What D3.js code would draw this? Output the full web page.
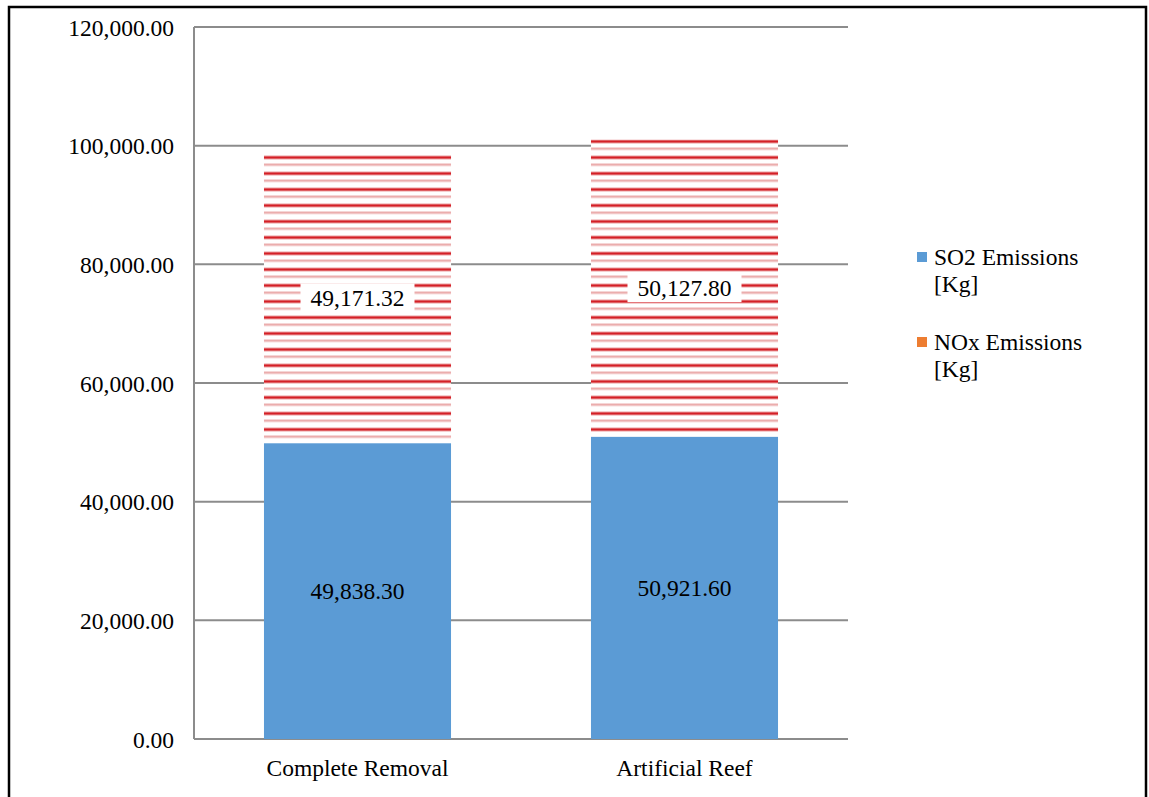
<!DOCTYPE html>
<html>
<head>
<meta charset="utf-8">
<script src="https://cdn.jsdelivr.net/npm/d3@7"></script>
<style>
  html, body { margin: 0; padding: 0; background: #fff; }
  svg { display: block; }
  svg text { font-family: "Liberation Serif", "Times New Roman", "DejaVu Serif", serif !important; font-size: 23.5px; fill: #000; }
</style>
</head>
<body>
<svg id="chart" width="1149" height="797"></svg>
<script>
// Emission totals per decommissioning option
const categories = ["Complete Removal", "Artificial Reef"];
const so2Values = [49838.30, 50921.60];
const noxValues = [49171.32, 50127.80];
const yTickValues = [0, 20000, 40000, 60000, 80000, 100000, 120000];
const seriesNames = ["SO2 Emissions [Kg]", "NOx Emissions [Kg]"];
const seriesColors = ["#5b9bd5", "#ed7d31"];

const svg = d3.select("#chart");
const margin = { left: 194, right: 848, top: 27, bottom: 739 };

const x = d3.scaleBand()
  .domain(categories)
  .range([margin.left, margin.right])
  .paddingInner(0.428)
  .paddingOuter(0.214);

const y = d3.scaleLinear()
  .domain([0, 120000])
  .range([margin.bottom, margin.top]);

const fmt = d3.format(",.2f");

// Horizontal red hatching used for the NOx segment
const defs = svg.append("defs");
const pat = defs.append("pattern")
  .attr("id", "noxHatch")
  .attr("patternUnits", "userSpaceOnUse")
  .attr("x", 0).attr("y", 11.5)
  .attr("width", 16).attr("height", 16);
pat.append("rect").attr("x", 0).attr("y", 0).attr("width", 16).attr("height", 16).attr("fill", "#ffffff");
pat.append("rect").attr("x", 0).attr("y", 0).attr("width", 16).attr("height", 4).attr("fill", "#f0bcbc");
pat.append("rect").attr("x", 0).attr("y", 0.8).attr("width", 16).attr("height", 2.4).attr("fill", "#d41f26");
pat.append("rect").attr("x", 0).attr("y", 8).attr("width", 16).attr("height", 2.4).attr("fill", "#ebadad");

// Outer frame
svg.append("path")
  .attr("d", "M9,797 V7 H1146 V797")
  .attr("fill", "none")
  .attr("stroke", "#000")
  .attr("stroke-width", 2.5);

// Gridlines
svg.append("g")
  .selectAll("line")
  .data(yTickValues)
  .join("line")
  .attr("x1", margin.left).attr("x2", margin.right)
  .attr("y1", d => y(d)).attr("y2", d => y(d))
  .attr("stroke", "#8c8c8c")
  .attr("stroke-width", 2);

// Left axis line
svg.append("line")
  .attr("x1", margin.left).attr("x2", margin.left)
  .attr("y1", y(120000)).attr("y2", y(0))
  .attr("stroke", "#8c8c8c")
  .attr("stroke-width", 2);

// Y tick labels
const yAxis = d3.axisLeft(y).tickValues(yTickValues).tickFormat(fmt).tickSize(0).tickPadding(20);
const gy = svg.append("g").attr("transform", `translate(${margin.left},0)`).call(yAxis);
gy.select(".domain").remove();
gy.attr("font-family", null).attr("font-size", null);
gy.selectAll("text").attr("fill", "#000").attr("dy", "0.35em");

// X category labels
const xAxis = d3.axisBottom(x).tickSize(0).tickPadding(20);
const gx = svg.append("g").attr("transform", `translate(0,${margin.bottom})`).call(xAxis);
gx.select(".domain").remove();
gx.attr("font-family", null).attr("font-size", null);
gx.selectAll("text").attr("fill", "#000");

// Stacked bars
const rows = categories.map((c, i) => ({ cat: c, so2: so2Values[i], nox: noxValues[i] }));

const bars = svg.append("g");
bars.selectAll("rect.so2")
  .data(rows)
  .join("rect")
  .attr("class", "so2")
  .attr("x", d => x(d.cat))
  .attr("width", x.bandwidth())
  .attr("y", d => y(d.so2))
  .attr("height", d => y(0) - y(d.so2))
  .attr("fill", seriesColors[0]);

bars.selectAll("rect.nox")
  .data(rows)
  .join("rect")
  .attr("class", "nox")
  .attr("x", d => x(d.cat))
  .attr("width", x.bandwidth())
  .attr("y", d => y(d.so2 + d.nox))
  .attr("height", d => y(d.so2) - y(d.so2 + d.nox) - 4)
  .attr("fill", "url(#noxHatch)");

// Value labels
const labels = svg.append("g");

labels.selectAll("text.so2")
  .data(rows)
  .join("text")
  .attr("class", "so2")
  .attr("x", d => x(d.cat) + x.bandwidth() / 2)
  .attr("y", d => y(d.so2 / 2))
  .attr("dy", "0.35em")
  .attr("text-anchor", "middle")
  .text(d => fmt(d.so2));

const noxLab = labels.selectAll("g.nox")
  .data(rows)
  .join("g")
  .attr("class", "nox")
  .attr("transform", d => `translate(${x(d.cat) + x.bandwidth() / 2},${y(d.so2 + d.nox / 2)})`);
noxLab.append("rect")
  .attr("x", -57).attr("y", -14)
  .attr("width", 114).attr("height", 28)
  .attr("fill", "#fff");
noxLab.append("text")
  .attr("text-anchor", "middle")
  .attr("dy", "0.35em")
  .text(d => fmt(d.nox));

// Legend
const legend = svg.append("g");
const legItems = legend.selectAll("g")
  .data(seriesNames)
  .join("g")
  .attr("transform", (d, i) => `translate(917,${252 + i * 85})`);
legItems.append("rect")
  .attr("width", 10).attr("height", 10)
  .attr("fill", (d, i) => seriesColors[i]);
legItems.each(function (d) {
  const parts = d.split(" [");
  const t = d3.select(this).append("text").attr("x", 17).attr("y", 13);
  t.append("tspan").attr("x", 17).attr("dy", 0).text(parts[0]);
  t.append("tspan").attr("x", 17).attr("dy", 27).text("[" + parts[1]);
});
</script>
</body>
</html>
